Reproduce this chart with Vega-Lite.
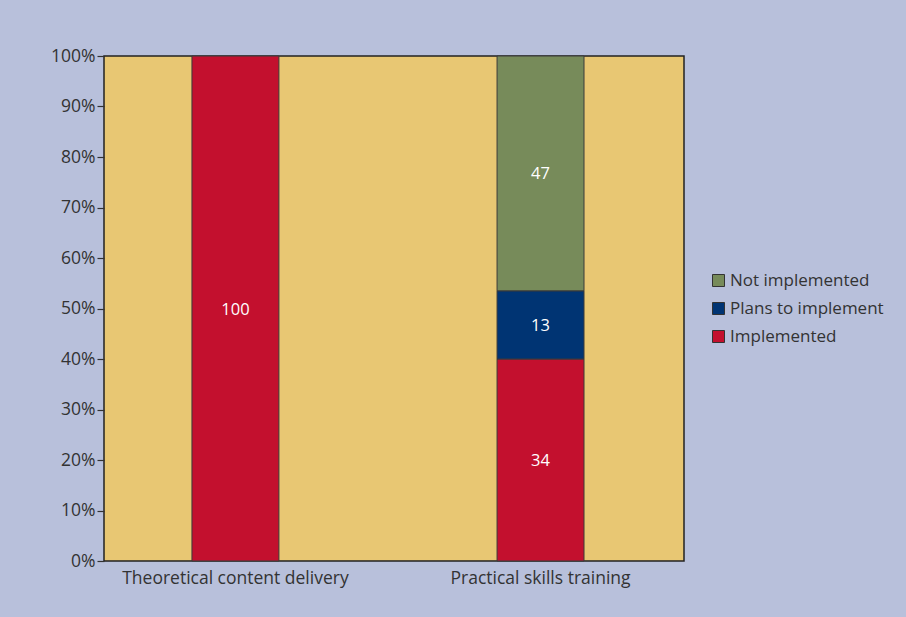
{
  "$schema": "https://vega.github.io/schema/vega-lite/v6.json",
  "autosize": "none",
  "width": 580,
  "height": 505,
  "padding": {"left": 104, "top": 56, "right": 222, "bottom": 56},
  "background": "#b8c0db",
  "config": {
    "view": {"fill": "#e8c773", "stroke": "#222222", "strokeWidth": 1.5},
    "font": "Open Sans",
    "axis": {"labelColor": "#333333", "labelFont": "Open Sans"},
    "legend": {"labelColor": "#333333", "labelFont": "Open Sans"}
  },
  "data": {
    "values": [
      {"category": "Theoretical content delivery", "status": "Implemented", "pct": 100, "label": "100", "rank": 1},
      {"category": "Practical skills training", "status": "Implemented", "pct": 40, "label": "34", "rank": 1},
      {"category": "Practical skills training", "status": "Plans to implement", "pct": 13.5, "label": "13", "rank": 2},
      {"category": "Practical skills training", "status": "Not implemented", "pct": 46.5, "label": "47", "rank": 3}
    ]
  },
  "encoding": {
    "x": {
      "field": "category",
      "type": "nominal",
      "sort": ["Theoretical content delivery", "Practical skills training"],
      "scale": {"paddingInner": 0.715, "paddingOuter": 0.308, "align": 0.468},
      "axis": {
        "title": null,
        "labelAngle": 0,
        "labelFontSize": 17.5,
        "labelPadding": 8,
        "labelLimit": 0,
        "ticks": false,
        "domain": false
      }
    },
    "y": {
      "field": "pct",
      "type": "quantitative",
      "stack": "zero",
      "scale": {"domain": [0, 100], "nice": false},
      "axis": {
        "title": null,
        "values": [0, 10, 20, 30, 40, 50, 60, 70, 80, 90, 100],
        "labelExpr": "datum.value + '%'",
        "labelFontSize": 17.5,
        "labelPadding": 2,
        "tickSize": 7,
        "tickColor": "#333333",
        "tickWidth": 1.2,
        "grid": false,
        "domain": false
      }
    },
    "order": {"field": "rank", "type": "quantitative"}
  },
  "layer": [
    {
      "mark": {"type": "bar", "stroke": "#3a3a3a", "strokeWidth": 1},
      "encoding": {
        "color": {
          "field": "status",
          "type": "nominal",
          "scale": {
            "domain": ["Not implemented", "Plans to implement", "Implemented"],
            "range": ["#778b5a", "#003473", "#c3102e"]
          },
          "legend": {
            "title": null,
            "orient": "none",
            "legendX": 606,
            "legendY": 216,
            "symbolType": "square",
            "symbolSize": 144,
            "symbolStrokeColor": "#333333",
            "symbolStrokeWidth": 1,
            "symbolOpacity": 1,
            "labelFontSize": 17,
            "labelOffset": 3,
            "rowPadding": 10
          }
        }
      }
    },
    {
      "mark": {"type": "text", "color": "white", "fontSize": 16.5, "font": "Open Sans", "dy": 1},
      "encoding": {
        "y": {"field": "pct", "type": "quantitative", "stack": "zero", "bandPosition": 0.5},
        "text": {"field": "label"}
      }
    }
  ]
}
